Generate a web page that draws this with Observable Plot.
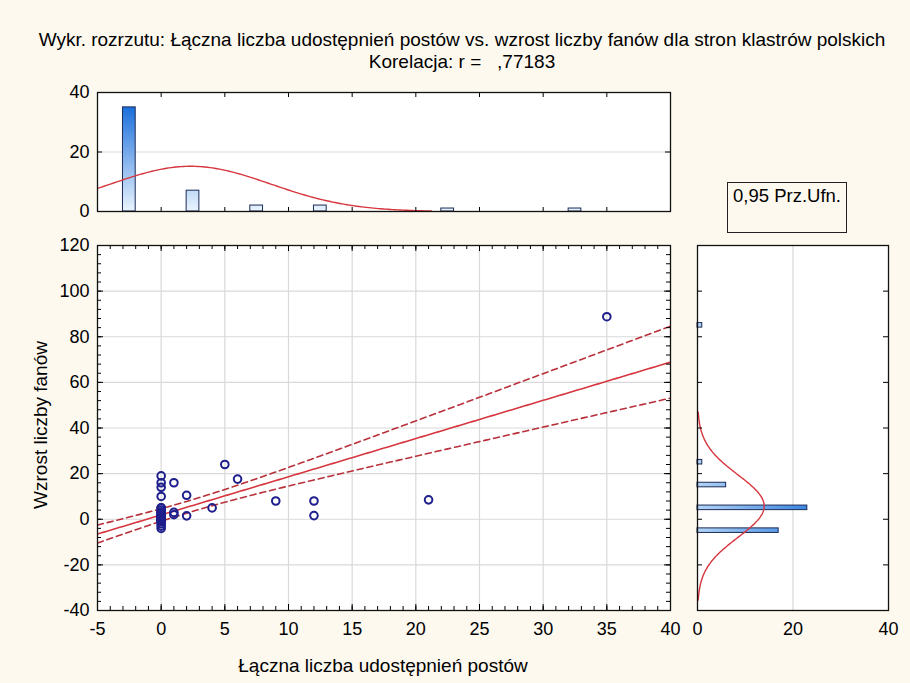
<!DOCTYPE html>
<html><head><meta charset="utf-8">
<script src="https://cdn.jsdelivr.net/npm/d3@7"></script>
<script src="https://cdn.jsdelivr.net/npm/@observablehq/plot@0.6"></script>
<style>
body{margin:0;background:#fdf9ef;}
#root{position:relative;width:910px;height:683px;background:#fdf9ef;font-family:"Liberation Sans",Arial,sans-serif;color:#000;overflow:hidden}
.abs{position:absolute;white-space:pre;line-height:1}
svg{overflow:visible}
</style></head><body><div id="root"></div>
<script>
// ---------- texts ----------
const titleLine1 = "Wykr. rozrzutu: Łączna liczba udostępnień postów vs. wzrost liczby fanów dla stron klastrów polskich";
const titleLine2 = "Korelacja: r =   ,77183";
const xLabel = "Łączna liczba udostępnień postów";
const yLabel = "Wzrost liczby fanów";
const legendText = "0,95 Prz.Ufn.";

// ---------- data (shares, fan growth) ----------
const shares = [
  0,0,0, 0,0,0,0,0,0,0,0,0,0,0,0,0,0,0, 0,0,0,0,0,0,0,0,0,0,0,0,0,0,0,0,0,
  1,1,1,2,2,4,5,6,9,12,12,21,35
];
const fanGrowth = [
  19,16,14, 10,5,5,4,3,3,3,2,2,2,1,1,1,1,1, 0,0,0,0,0,0,0,0,0,0,0,0,-1,-1,-2,-3,-4,
  16,3,2,10.5,1.5,5,24,17.6,8,8,1.6,8.5,88.8
];

// ---------- ticks ----------
const xTicks = [-5,0,5,10,15,20,25,30,35,40];
const yTicks = [-40,-20,0,20,40,60,80,100,120];
const topCountTicks = [0,20,40];
const rightCountTicks = [0,20,40];
const xBinWidth = 5, yBinWidth = 10;
const tCrit = 2.0129; // t(0.975, n-2)

// ---------- statistics ----------
const points = shares.map((x,i)=>({x, y: fanGrowth[i]}));
const n = points.length;
const mx = d3.mean(shares), my = d3.mean(fanGrowth);
const sxx = d3.sum(shares, v=>(v-mx)**2);
const syy = d3.sum(fanGrowth, v=>(v-my)**2);
const sxy = d3.sum(points, p=>(p.x-mx)*(p.y-my));
const slope = sxy/sxx, intercept = my - slope*mx;
const se = Math.sqrt((syy - slope*sxy)/(n-2));
const xs = d3.range(-5, 40.001, 0.25);
const fit = xs.map(x=>{
  const yh = intercept + slope*x;
  const h = tCrit*se*Math.sqrt(1/n + (x-mx)**2/sxx);
  return {x, y: yh, lo: yh-h, hi: yh+h};
});
function binCounts(vals, w){
  const m = d3.rollup(vals, v=>v.length, v=>Math.ceil(v/w - 1e-9) || 0);
  return Array.from(m, ([k,c])=>({c:(k-0.5)*w, n:c}));
}
const topBins = binCounts(shares, xBinWidth);
const rightBins = binCounts(fanGrowth, yBinWidth);
const sdx = Math.sqrt(sxx/(n-1)), sdy = Math.sqrt(syy/(n-1));
const pdf = (v,m,s)=>Math.exp(-0.5*((v-m)/s)**2)/(s*Math.sqrt(2*Math.PI));
const topCurve = d3.range(mx-3*sdx, mx+3*sdx+1e-9, (6*sdx)/200).map(v=>({v, n: n*xBinWidth*pdf(v,mx,sdx)}));
const rightCurve = d3.range(my-3*sdy, my+3*sdy+1e-9, (6*sdy)/200).map(v=>({v, n: n*yBinWidth*pdf(v,my,sdy)}));

// ---------- styles ----------
const FONT = '"Liberation Sans", Arial, sans-serif';
const RED = "#d6363f", RED_D = "#b8303a", BLUE_PT = "#1e1e8c", BAR_STROKE = "#1b2b56";
const GRID = "#d9d9d9";
const baseStyle = {background:"transparent", fontFamily: FONT, fontSize:"18px", color:"#000", overflow:"visible"};
const fmt = d => String(d);

function gradientDefs(id, horizontal, maxCount, lo, hi){
  return (index, scales) => {
    const defs = d3.create("svg:defs");
    const g = defs.append("linearGradient").attr("id", id).attr("gradientUnits","userSpaceOnUse");
    if (horizontal) g.attr("x1", scales.x(0)).attr("x2", scales.x(maxCount)).attr("y1",0).attr("y2",0);
    else g.attr("x1",0).attr("x2",0).attr("y1", scales.y(0)).attr("y2", scales.y(maxCount));
    g.append("stop").attr("offset","0").attr("stop-color", lo);
    g.append("stop").attr("offset","1").attr("stop-color", hi);
    return defs.node();
  };
}

const root = document.getElementById("root");
function place(node, left, top){ node.style.position="absolute"; node.style.left=left+"px"; node.style.top=top+"px"; root.appendChild(node); }
function text(str, css){ const d=document.createElement("div"); d.className="abs"; d.textContent=str; Object.assign(d.style, css); root.appendChild(d); return d; }

// ---------- main scatter ----------
const mainW = 690, mainH = 405, mL = 97, mR = 20, mT = 10, mB = 30;
const innerW = mainW-mL-mR, innerH = mainH-mT-mB;
const minorX = d3.range(-5, 40.001, 1);
const minorY = d3.range(-40, 120.001, 4);
const main = Plot.plot({
  width: mainW, height: mainH, marginLeft: mL, marginRight: mR, marginTop: mT, marginBottom: mB,
  x: {domain: [-5, 40]}, y: {domain: [-40, 120]},
  style: baseStyle,
  marks: [
    Plot.frame({fill: "white", stroke: "none"}),
    Plot.gridX(xTicks.slice(1,-1), {stroke: GRID, strokeOpacity: 1, strokeWidth: 1.2}),
    Plot.gridY(yTicks.slice(1,-1), {stroke: GRID, strokeOpacity: 1, strokeWidth: 1.2}),
    Plot.line(fit, {x:"x", y:"hi", stroke: RED_D, strokeWidth: 1.6, strokeDasharray: "6,4", clip: true}),
    Plot.line(fit, {x:"x", y:"lo", stroke: RED_D, strokeWidth: 1.6, strokeDasharray: "6,4", clip: true}),
    Plot.line(fit, {x:"x", y:"y", stroke: RED, strokeWidth: 1.6, clip: true}),
    Plot.dot(points, {x:"x", y:"y", r: 3.8, stroke: BLUE_PT, strokeWidth: 2, fill: "none"}),
    Plot.tickX(minorX, {x: d=>d, insetTop: innerH-4, stroke:"#000"}),
    Plot.tickX(minorX, {x: d=>d, insetBottom: innerH-4, stroke:"#000"}),
    Plot.tickX(xTicks, {x: d=>d, insetTop: innerH-6, stroke:"#000"}),
    Plot.tickX(xTicks, {x: d=>d, insetBottom: innerH-6, stroke:"#000"}),
    Plot.tickY(minorY, {y: d=>d, insetRight: innerW-4, stroke:"#000"}),
    Plot.tickY(minorY, {y: d=>d, insetLeft: innerW-4, stroke:"#000"}),
    Plot.tickY(yTicks, {y: d=>d, insetRight: innerW-6, stroke:"#000"}),
    Plot.tickY(yTicks, {y: d=>d, insetLeft: innerW-6, stroke:"#000"}),
    Plot.frame({stroke: "#111", strokeWidth: 1.3}),
    Plot.axisX(xTicks, {tickSize: 0, tickPadding: 12, label: null, tickFormat: fmt}),
    Plot.axisY(yTicks, {tickSize: 0, tickPadding: 8, label: null, tickFormat: fmt})
  ]
});
place(main, 0, 235);

// ---------- top histogram ----------
const topW = 690, topH = 136, tT = 12, tB = 5;
const topInnerH = topH - tT - tB;
const topMax = d3.max(topBins, d=>d.n);
const topHist = Plot.plot({
  width: topW, height: topH, marginLeft: mL, marginRight: mR, marginTop: tT, marginBottom: tB,
  x: {domain: [-5, 40], axis: null}, y: {domain: [0, 40]},
  style: baseStyle,
  marks: [
    gradientDefs("gradTop", false, topMax, "#eaf4fe", "#1b6fdb"),
    Plot.frame({fill: "white", stroke: "none"}),
    Plot.gridY([20], {stroke: GRID, strokeOpacity: 1, strokeWidth: 1.2}),
    Plot.rectY(topBins, {x1: d=>d.c-0.5, x2: d=>d.c+0.5, y: "n", fill: "url(#gradTop)", stroke: BAR_STROKE, strokeWidth: 1}),
    Plot.line(topCurve, {x:"v", y:"n", stroke: RED, strokeWidth: 1.4, clip: true}),
    Plot.tickX(xTicks.slice(1,-1), {x: d=>d, insetBottom: topInnerH-5, stroke:"#000"}),
    Plot.tickX(xTicks.slice(1,-1), {x: d=>d, insetTop: topInnerH-4, stroke:"#000"}),
    Plot.tickY([20], {y: d=>d, insetRight: innerW-5, stroke:"#000"}),
    Plot.tickY([20], {y: d=>d, insetLeft: innerW-5, stroke:"#000"}),
    Plot.frame({stroke: "#111", strokeWidth: 1.3}),
    Plot.axisY(topCountTicks, {tickSize: 0, tickPadding: 8, label: null, tickFormat: fmt})
  ]
});
place(topHist, 0, 80);

// ---------- right histogram ----------
const rW = 220, rL = 17, rR = 12;
const rInnerW = rW - rL - rR;
const rightMax = d3.max(rightBins, d=>d.n);
const rightHist = Plot.plot({
  width: rW, height: mainH, marginLeft: rL, marginRight: rR, marginTop: mT, marginBottom: mB,
  x: {domain: [0, 40]}, y: {domain: [-40, 120], axis: null},
  style: baseStyle,
  marks: [
    gradientDefs("gradRight", true, rightMax, "#b3d4f6", "#3a86e2"),
    Plot.frame({fill: "white", stroke: "none"}),
    Plot.gridX([20], {stroke: GRID, strokeOpacity: 1, strokeWidth: 1.2}),
    Plot.rectX(rightBins, {y1: d=>d.c-1, y2: d=>d.c+1, x: "n", fill: "url(#gradRight)", stroke: BAR_STROKE, strokeWidth: 1}),
    Plot.line(rightCurve, {x:"n", y:"v", stroke: RED, strokeWidth: 1.4, clip: true}),
    Plot.tickY(yTicks.slice(1,-1), {y: d=>d, insetRight: rInnerW-5, stroke:"#000"}),
    Plot.tickY(yTicks.slice(1,-1), {y: d=>d, insetLeft: rInnerW-5, stroke:"#000"}),
    Plot.frame({stroke: "#111", strokeWidth: 1.3}),
    Plot.axisX(rightCountTicks, {tickSize: 0, tickPadding: 12, label: null, tickFormat: fmt})
  ]
});
place(rightHist, 680, 235);

// ---------- texts ----------
text(titleLine1, {left:"0px", width:"924px", top:"30px", textAlign:"center", fontSize:"19px"});
text(titleLine2, {left:"0px", width:"924px", top:"52px", textAlign:"center", fontSize:"19px"});
text(xLabel, {left:"383px", top:"656px", transform:"translateX(-50%)", fontSize:"19px"});
text(yLabel, {left:"40px", top:"425px", transform:"translate(-50%,-50%) rotate(-90deg)", fontSize:"19px"});
const box = document.createElement("div");
Object.assign(box.style, {position:"absolute", left:"727px", top:"182px", width:"120px", height:"51px", border:"1px solid #222", boxSizing:"border-box", background:"#fdf9ef"});
root.appendChild(box);
text(legendText, {left:"733px", top:"187px", fontSize:"18.5px"});
</script></body></html>
